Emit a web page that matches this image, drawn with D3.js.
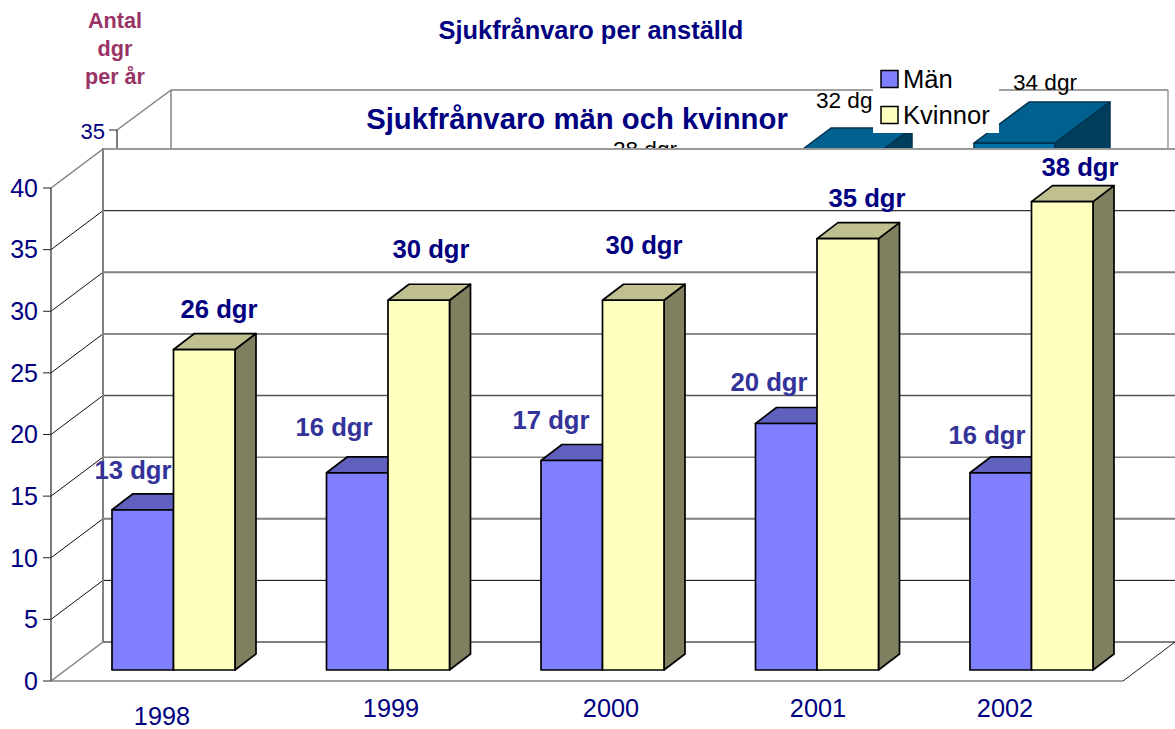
<!DOCTYPE html>
<html><head><meta charset="utf-8">
<script src="https://d3js.org/d3.v7.min.js"></script>
<style>html,body{margin:0;padding:0;background:#fff}svg{display:block}text{font-family:"Liberation Sans",Arial,sans-serif}</style>
</head><body><svg id="c" width="1175" height="729"></svg>
<script>
const years = ["1998","1999","2000","2001","2002"];
const men = [13,16,17,20,16];
const women = [26,30,30,35,38];
const ticks = [0,5,10,15,20,25,30,35,40];
const seriesNames = ["Män","Kvinnor"];
const backValues = [28,32,34];
const backYears = ["2000","2001","2002"];
const mainTitle = "Sjukfrånvaro per anställd";
const backTitle = "Sjukfrånvaro män och kvinnor";
const unitLines = ["Antal","dgr","per år"];

// layout
const W=1175,H=729;
const svg=d3.select("#c");
const axisY=d3.scaleLinear().domain([0,40]).range([681,188]);
const barY=d3.scaleLinear().domain([0,40]).range([670,177]);
const gx=d3.scalePoint().domain(years).range([112,970]);
const barW=61.5;
const wall={dx:52,dy:-39}, depth={dx:21,dy:-16};
const floorRight=1123;
const backY=d3.scaleLinear().domain([30,35]).range([195,130]);
const backX=d3.scaleOrdinal().domain(backYears).range([570,776,974]);
const backBarW=81, backDepth={dx:55,dy:-41};
const backLabelX=[645,848,1045], backLabelY=[149,100,82];
const menLabel=[[133,470],[334,427],[551,420],[769,382],[987,435]];
const womenLabel=[[219,309],[431,249],[644,245],[867,198],[1080,167]];
const yearLabel=[[162,716],[391,708],[611,708],[818,708],[1005,708]];
const line=(x1,y1,x2,y2,c,w)=>svg.append("line").attr("x1",x1).attr("y1",y1).attr("x2",x2).attr("y2",y2).attr("stroke",c).attr("stroke-width",w);
const text=(s,x,y,size,fill,weight,anchor)=>svg.append("text").attr("x",x).attr("y",y).attr("dy","0.35em").attr("font-size",size).attr("fill",fill).attr("font-weight",weight||"normal").attr("text-anchor",anchor||"middle").text(s);
const poly=(pts,fill,stroke,w)=>svg.append("polygon").attr("points",pts.map(p=>p.join(",")).join(" ")).attr("fill",fill).attr("stroke",stroke).attr("stroke-width",w).attr("stroke-linejoin","round");

// back chart
line(171,90,1168,90,"#808080",1.5);
line(171,90,171,148,"#808080",1.5);
line(1168,90,1168,148,"#999",1.5);
line(117,130,171,90,"#808080",1.5);
line(117,130,117,148,"#222",1.2);
line(109,130,117,130,"#222",1);
text("35",105,131,22,"#000080","normal","end");
backValues.forEach((v,i)=>{
  const x=backX(backYears[i]),y=backY(v),d=backDepth;
  poly([[x,y],[x+backBarW,y],[x+backBarW,y+60],[x,y+60]],"#006fa6","#00314d",1.5);
  poly([[x,y],[x+d.dx,y+d.dy],[x+backBarW+d.dx,y+d.dy],[x+backBarW,y]],"#006090","#00314d",1.5);
  poly([[x+backBarW,y],[x+backBarW+d.dx,y+d.dy],[x+backBarW+d.dx,y+60],[x+backBarW,y+60]],"#003e5e","#00314d",1.5);
  text(v+" dgr",backLabelX[i],backLabelY[i],22.6,"#000");
});
text(backTitle,577,119,29.3,"#000080","bold");

// legend over back chart
svg.append("rect").attr("x",873).attr("y",62).attr("width",126).attr("height",71).attr("fill","#fff");
[["#8080ff",79],["#ffffc0",115]].forEach((l,i)=>{
  svg.append("rect").attr("x",881).attr("y",l[1]-8.5).attr("width",17).attr("height",17).attr("fill",l[0]).attr("stroke","#000").attr("stroke-width",1.5);
  text(seriesNames[i],903,l[1],25.6,"#000","normal","start");
});

// front chart background hides lower part of back chart
svg.append("rect").attr("x",0).attr("y",148).attr("width",W).attr("height",H-148).attr("fill","#fff");

// titles
text(mainTitle,591,30,25.4,"#000080","bold");
unitLines.forEach((s,i)=>text(s,115,20+i*28,21.6,"#993366","bold"));

// walls, grid
const gridStyle={5:["#000",1],10:["#808080",2],15:["#808080",1.5],20:["#555",1.5],25:["#666",1.5],30:["#808080",2],35:["#333",1.2],40:["#999",2]};
ticks.forEach(t=>{
  const y=axisY(t);
  if(t>0){
    const s=gridStyle[t];
    line(51+wall.dx,y+wall.dy,W,y+wall.dy,s[0],s[1]);
    line(51,y,51+wall.dx,y+wall.dy,t===40?"#808080":"#111",t===40?1.5:1);
  }
  line(43,y,51,y,"#222",1);
  text(t,38,y,25,"#000080","normal","end");
});
line(103,148,103,642,"#808080",2);
line(51,188,51,681,"#333",1.3);
line(103,642,W,642,"#808080",2);
line(51,681,103,642,"#808080",1.5);
line(51,681,floorRight,681,"#808080",1.5);
line(floorRight,681,W,642,"#222",1);

// bars
const bar=(x,v,front,top,side)=>{
  const y=barY(v),b=barY(0),w=barW,d=depth;
  poly([[x+w,y],[x+w+d.dx,y+d.dy],[x+w+d.dx,b+d.dy],[x+w,b]],side,"#000",1.7);
  poly([[x,y],[x+d.dx,y+d.dy],[x+w+d.dx,y+d.dy],[x+w,y]],top,"#000",1.7);
  poly([[x,y],[x+w,y],[x+w,b],[x,b]],front,"#000",1.7);
};
years.forEach((yr,i)=>{
  bar(gx(yr),men[i],"#8080ff","#6060bf","#6060bf");
  bar(gx(yr)+barW,women[i],"#ffffc0","#bfbf90","#808060");
});
// labels
men.forEach((v,i)=>text(v+" dgr",menLabel[i][0],menLabel[i][1],25.7,"#333399","bold"));
women.forEach((v,i)=>text(v+" dgr",womenLabel[i][0],womenLabel[i][1],25.7,"#000080","bold"));
years.forEach((y,i)=>text(y,yearLabel[i][0],yearLabel[i][1],25.3,"#000080"));
</script></body></html>
